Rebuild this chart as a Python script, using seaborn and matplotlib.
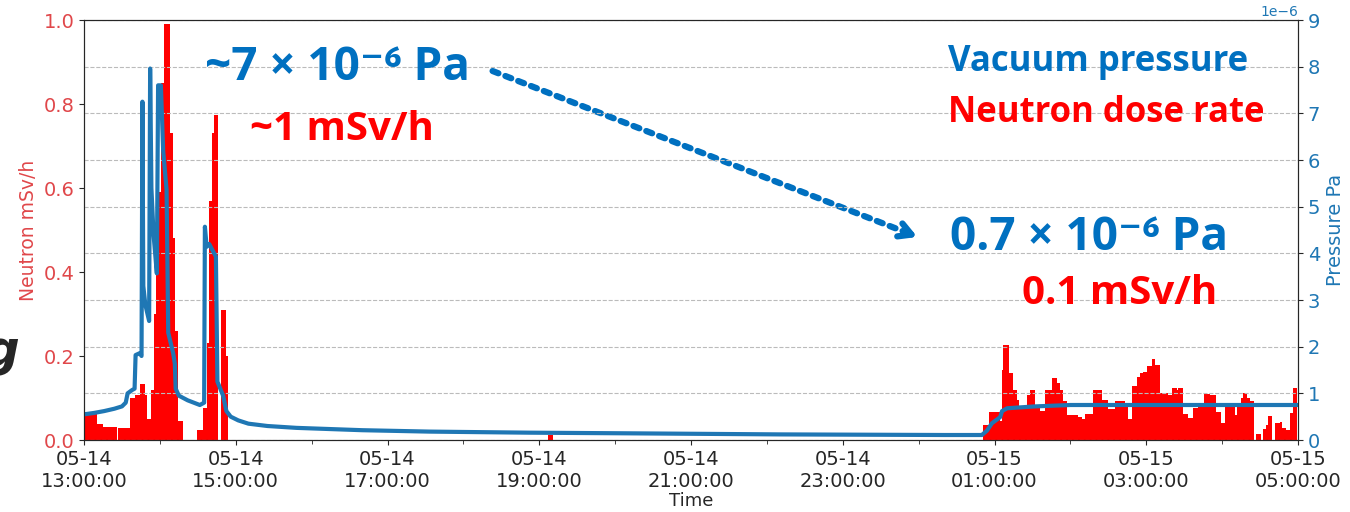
import numpy as np
import seaborn as sns
import matplotlib.pyplot as plt

# neutron dose rate, bins start (minutes after 05-14 13:00) and value in mSv/h
neutron_start = [0, 10, 15, 26, 27, 36, 40, 44, 48, 50, 53, 55, 57, 59, 61, 63, 68, 70, 72, 74, 78,
                 89, 94, 97, 99, 101, 103, 106, 108, 112, 113.5, 367, 371,
                 711, 716, 724.5, 726, 727, 731.5, 735, 737.7, 739.5, 745.6, 748.2, 752, 755.6, 760,
                 765.3, 769.2, 772, 774.5, 777, 786.3, 789, 791.6, 798.2, 804.8, 809.5, 815.3, 823.2,
                 825.5, 828.5, 832.4, 835, 837.6, 840.3, 844.2, 846.9, 850.8, 857.4, 860, 864, 865.3,
                 869.2, 873.2, 877.1, 881.1, 885.8, 890.3, 895.5, 899.5, 902.1, 910, 912.1, 915.3,
                 916.6, 920, 921.9, 925.3, 927.1, 931.1, 932.4, 935, 936.3, 939.5, 941.6, 945.5,
                 947.4, 950.8, 953.4, 956.1]
neutron_end = 959
neutron_dose = [0.067, 0.038, 0.032, 0, 0.028, 0.10, 0.107, 0.133, 0.107, 0.05, 0.12, 0.30, 0.40, 0.59,
                0.85, 0.99, 0.73, 0.48, 0.26, 0.045, 0,
                0.024, 0.076, 0.23, 0.57, 0.73, 0.774, 0, 0.31, 0.20, 0, 0.012, 0,
                0.035, 0.067, 0.045, 0.167, 0.226, 0.159, 0.119, 0.095, 0.075, 0.107, 0.12, 0.077, 0.07,
                0.12, 0.148, 0.136, 0.118, 0.093, 0.06, 0.054, 0.05, 0.062, 0.12, 0.095, 0.073, 0.093,
                0.08, 0.05, 0.128, 0.151, 0.16, 0.163, 0.175, 0.192, 0.179, 0.113, 0.107, 0.125, 0.119,
                0.125, 0.063, 0.052, 0.076, 0.079, 0.11, 0.107, 0.067, 0.041, 0.078, 0.06, 0.078, 0.1,
                0.113, 0.1, 0.094, 0, 0.014, 0, 0.026, 0.036, 0.058, 0, 0.04, 0.042, 0.028, 0.024,
                0.065, 0.125]

# vacuum pressure (units of 1e-6 Pa)
press_min = [0, 8, 16, 24, 30, 33, 34.5, 38, 40, 40.8, 44, 45.5, 46.2, 46.9, 48.5, 51.5, 52.3, 53.3, 55,
             57.6, 58.6, 60.8, 62.6, 65.3, 66.6, 70.5, 71.8, 72.5, 75, 82, 91.6, 95, 95.6, 97, 99,
             104.3, 105.5, 110, 112.6, 116, 122, 130, 145, 168, 220, 273, 352, 431, 550, 680, 710,
             714, 718, 724.5, 726, 730, 752, 780, 960]
press_val = [0.55, 0.58, 0.62, 0.67, 0.72, 0.8, 1.0, 1.07, 1.10, 1.82, 1.86, 1.8, 7.25, 3.3, 2.9, 2.55,
             7.96, 5.4, 4.4, 3.57, 7.6, 7.6, 6.2, 5.36, 2.3, 1.86, 1.64, 1.1, 0.95, 0.85, 0.75, 0.8,
             4.57, 4.14, 4.2, 3.93, 1.25, 0.95, 0.62, 0.5, 0.42, 0.35, 0.3, 0.26, 0.21, 0.18, 0.157,
             0.143, 0.12, 0.107, 0.107, 0.2, 0.36, 0.49, 0.62, 0.68, 0.72, 0.75, 0.75]

tick_min = [0, 120, 240, 360, 480, 600, 720, 840, 960]
tick_labels = ['05-14\n13:00:00', '05-14\n15:00:00', '05-14\n17:00:00', '05-14\n19:00:00',
               '05-14\n21:00:00', '05-14\n23:00:00', '05-15\n01:00:00', '05-15\n03:00:00',
               '05-15\n05:00:00']

sns.set_style('ticks')
plt.rcParams['font.family'] = ['DejaVu Sans']
BLUE = '#0070C0'
RED = '#FF0000'
AXRED = '#e0474a'

fig = plt.figure(figsize=(13.5, 5.12), dpi=100)
ax1 = fig.add_axes([84 / 1350, 1 - 440 / 512, 1214 / 1350, 420 / 512])

edges = neutron_start + [neutron_end]
sns.histplot(x=neutron_start, weights=neutron_dose, bins=edges, ax=ax1,
             color='red', alpha=1, linewidth=0)
ax1.set_ylim(0, 1.0)
ax1.set_xlim(0, 960)
ax1.set_yticks(np.arange(0, 1.01, 0.2))
ax1.set_yticklabels([f'{v:.1f}' for v in np.arange(0, 1.01, 0.2)])
ax1.set_ylabel('Neutron mSv/h', color=AXRED, fontsize=13.5)
ax1.tick_params(axis='y', labelcolor=AXRED, labelsize=14)
ax1.set_xticks(tick_min)
ax1.set_xticklabels(tick_labels)
ax1.set_xticks(np.arange(60, 960, 120), minor=True)
ax1.tick_params(axis='x', labelsize=14)
ax1.tick_params(axis='x', which='minor', length=3)
ax1.set_xlabel('Time', fontsize=13, labelpad=1)

ax2 = ax1.twinx()
sns.lineplot(x=press_min, y=np.array(press_val) * 1e-6, ax=ax2, color='#1f77b4', linewidth=3)
ax2.set_ylim(0, 9e-6)
ax2.set_yticks(np.arange(0, 9.1e-6, 1e-6))
ax2.set_ylabel('Pressure Pa', color='#1f77b4', fontsize=14)
ax2.tick_params(axis='y', labelcolor='#1f77b4', labelsize=14)
ax2.yaxis.get_offset_text().set_color('#1f77b4')
ax2.yaxis.get_offset_text().set_fontsize(10)
ax2.grid(True, axis='y', linestyle='--', color='#bbbbbb', linewidth=0.8)
ax2.set_xlim(0, 960)

# annotations
tk = dict(fontfamily=['Open Sans', 'DejaVu Sans'], fontweight='bold', va='center', ha='left')
fig.text(205 / 1350, 1 - 68 / 512, '~7 × 10⁻⁶ Pa', color=BLUE, fontsize=33, **tk)
fig.text(250 / 1350, 1 - 130 / 512, '~1 mSv/h', color=RED, fontsize=29, **tk)
fig.text(950 / 1350, 1 - 237 / 512, '0.7 × 10⁻⁶ Pa', color=BLUE, fontsize=33, **tk)
fig.text(1022 / 1350, 1 - 293 / 512, '0.1 mSv/h', color=RED, fontsize=29, **tk)
fig.text(948 / 1350, 1 - 62 / 512, 'Vacuum pressure', color=BLUE, fontsize=25, **tk)
fig.text(948 / 1350, 1 - 113 / 512, 'Neutron dose rate', color=RED, fontsize=25, **tk)
fig.text(-0.012, 1 - 352 / 512, 'g', fontsize=36, fontweight='bold', style='italic',
         va='center', ha='left')

ax1.annotate('', xy=(905 / 1350, 1 - 232 / 512), xytext=(490 / 1350, 1 - 70 / 512),
             xycoords='figure fraction', textcoords='figure fraction',
             arrowprops=dict(arrowstyle='-', color=BLUE, lw=4.5, linestyle=(0, (1, 1.2))))
ax1.annotate('', xy=(920 / 1350, 1 - 238 / 512), xytext=(900 / 1350, 1 - 230 / 512),
             xycoords='figure fraction', textcoords='figure fraction',
             arrowprops=dict(arrowstyle='->,head_length=0.9,head_width=0.5', color=BLUE, lw=4.5))

fig.savefig('out.png', dpi=100)
